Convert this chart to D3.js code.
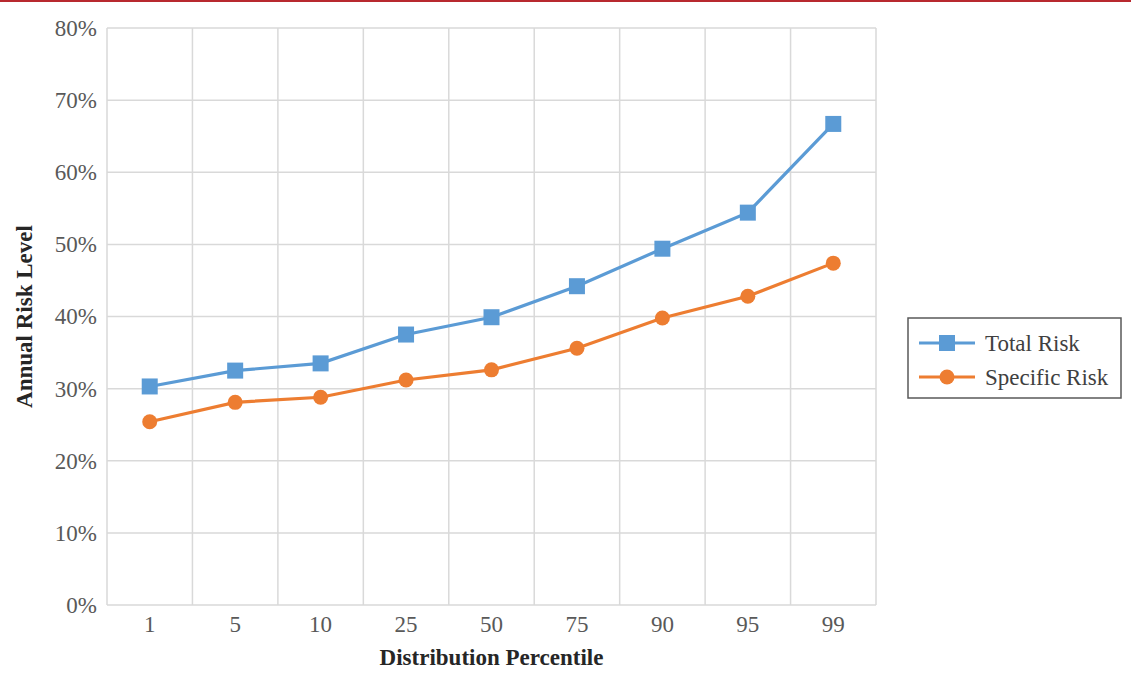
<!DOCTYPE html>
<html><head><meta charset="utf-8">
<script src="https://cdn.jsdelivr.net/npm/d3@7"></script>
<style>body{margin:0;background:#fff}svg{display:block}</style>
</head><body>
<svg id="c" width="1131" height="675"></svg>
<script>
const categories = ["1","5","10","25","50","75","90","95","99"];
const totalRisk = [0.303, 0.325, 0.335, 0.375, 0.399, 0.442, 0.494, 0.544, 0.667];
const specificRisk = [0.254, 0.281, 0.288, 0.312, 0.326, 0.356, 0.398, 0.428, 0.474];
const yTicks = [0,0.1,0.2,0.3,0.4,0.5,0.6,0.7,0.8];
const seriesNames = ["Total Risk","Specific Risk"];
const colors = ["#5b9bd5","#ed7d31"];

const svg = d3.select("#c");
const font = "'Liberation Serif','Times New Roman',serif";
svg.append("rect").attr("x",0).attr("y",0).attr("width",1131).attr("height",2).attr("fill","#b8292f");

const L=107,R=876,T=28,B=605;
const x = d3.scaleBand().domain(categories).range([L,R]);
const y = d3.scaleLinear().domain([0,0.8]).range([B,T]);

const g = svg.append("g");
g.selectAll(".hg").data(yTicks).join("line")
 .attr("x1",L).attr("x2",R).attr("y1",d=>y(d)).attr("y2",d=>y(d))
 .attr("stroke","#d9d9d9").attr("stroke-width",1.5);
const bounds = categories.map(c=>x(c)).concat([R]);
g.selectAll(".vg").data(bounds).join("line")
 .attr("x1",d=>d).attr("x2",d=>d).attr("y1",T).attr("y2",B)
 .attr("stroke","#d9d9d9").attr("stroke-width",1.5);

const yAxis = d3.axisLeft(y).tickValues(yTicks).tickFormat(d3.format(".0%")).tickSize(0).tickPadding(10);
const ya = svg.append("g").attr("transform",`translate(${L},0)`).call(yAxis);
ya.select(".domain").remove();
ya.selectAll("text").attr("font-family",font).attr("font-size",23).attr("fill","#595959").attr("dy","0.32em");

const xAxis = d3.axisBottom(x).tickSize(0).tickPadding(11);
const xa = svg.append("g").attr("transform",`translate(0,${B})`).call(xAxis);
xa.select(".domain").remove();
xa.selectAll("text").attr("font-family",font).attr("font-size",23).attr("fill","#595959");

svg.append("text").attr("x",(L+R)/2).attr("y",665).attr("text-anchor","middle")
 .attr("font-family",font).attr("font-size",23).attr("font-weight","bold").attr("fill","#262626")
 .text("Distribution Percentile");
svg.append("text").attr("transform",`translate(32,${(T+B)/2}) rotate(-90)`).attr("text-anchor","middle")
 .attr("font-family",font).attr("font-size",23).attr("font-weight","bold").attr("fill","#262626")
 .text("Annual Risk Level");

const cx = c => x(c)+x.bandwidth()/2;
const line = d3.line().x((d,i)=>cx(categories[i])).y(d=>y(d));
[totalRisk, specificRisk].forEach((data,si)=>{
  svg.append("path").datum(data).attr("d",line).attr("fill","none")
    .attr("stroke",colors[si]).attr("stroke-width",3.2);
  if(si===0){
    svg.selectAll(".sq").data(data).join("rect")
      .attr("x",(d,i)=>cx(categories[i])-8).attr("y",d=>y(d)-8)
      .attr("width",16).attr("height",16).attr("fill",colors[0]);
  } else {
    svg.selectAll(".ci").data(data).join("circle")
      .attr("cx",(d,i)=>cx(categories[i])).attr("cy",d=>y(d)).attr("r",7.5).attr("fill",colors[1]);
  }
});

const lg = svg.append("g");
lg.append("rect").attr("x",908).attr("y",318).attr("width",213).attr("height",80)
 .attr("fill","#fff").attr("stroke","#595959").attr("stroke-width",1.5);
seriesNames.forEach((n,i)=>{
  const yy = 343 + i*34;
  lg.append("line").attr("x1",919).attr("x2",975).attr("y1",yy).attr("y2",yy).attr("stroke",colors[i]).attr("stroke-width",3.2);
  if(i===0) lg.append("rect").attr("x",939).attr("y",yy-8).attr("width",16).attr("height",16).attr("fill",colors[0]);
  else lg.append("circle").attr("cx",947).attr("cy",yy).attr("r",7.5).attr("fill",colors[1]);
  lg.append("text").attr("x",985).attr("y",yy).attr("dy","0.35em").attr("font-family",font).attr("font-size",23)
    .attr("fill","#404040").text(n);
});
</script>
</body></html>
